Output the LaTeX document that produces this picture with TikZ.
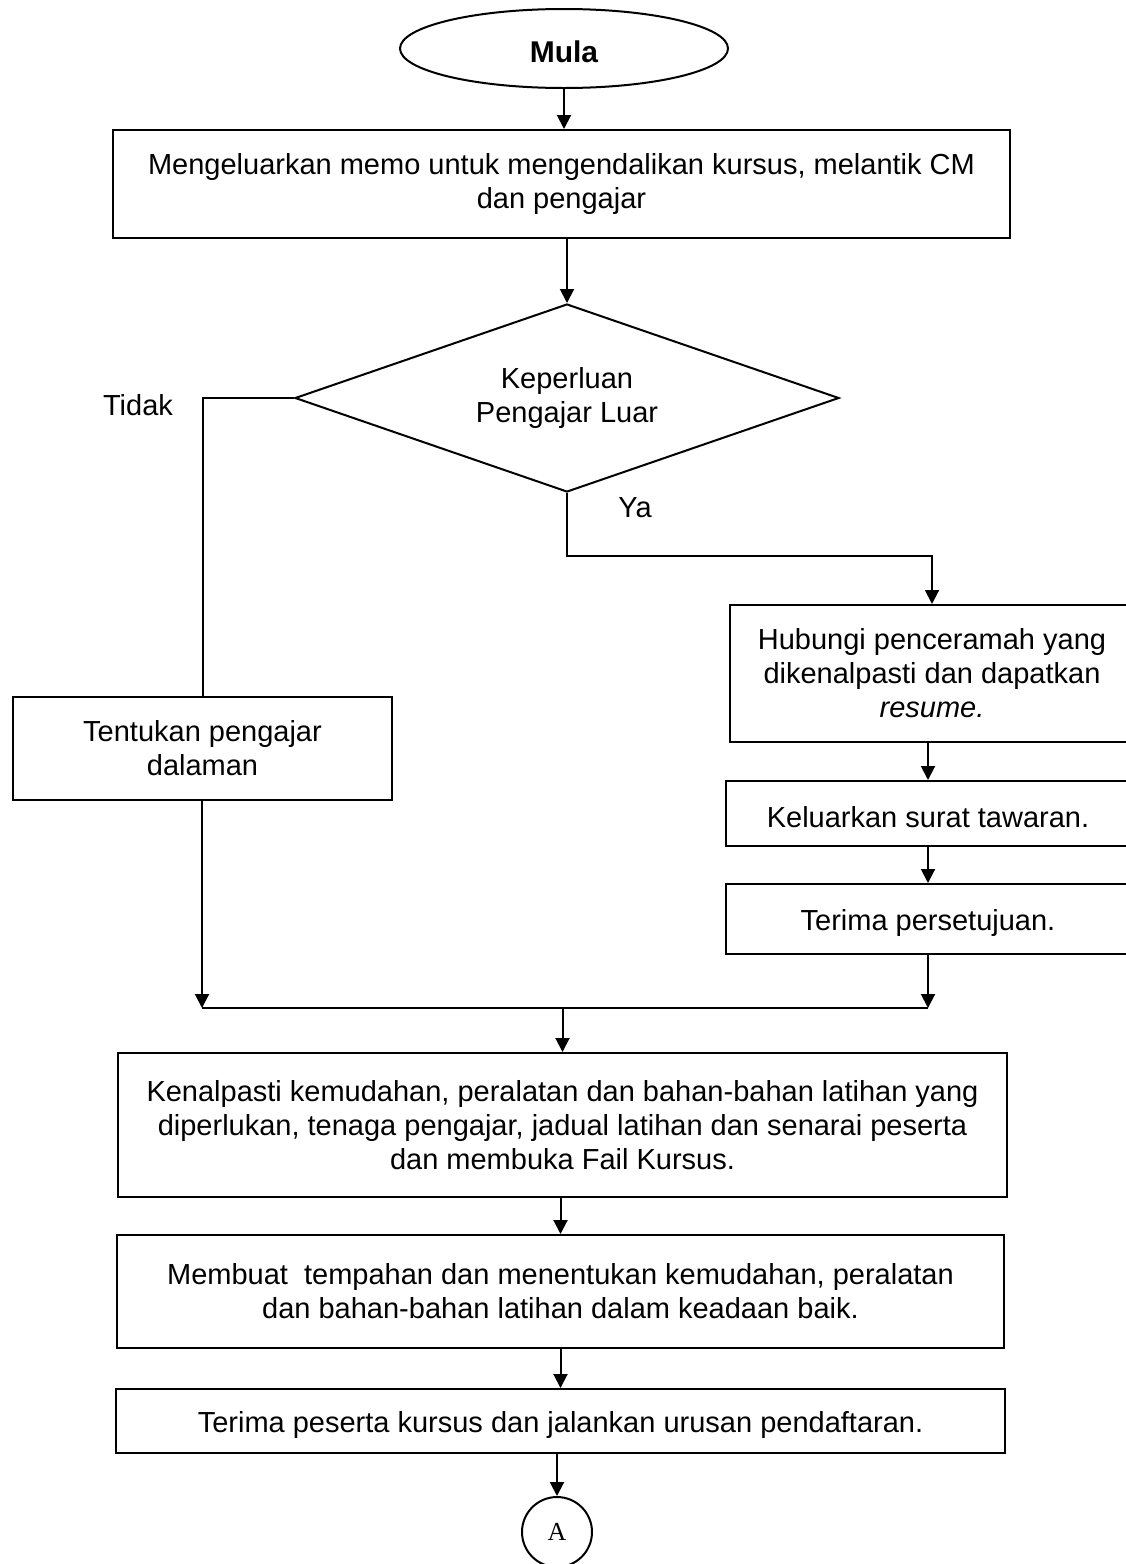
\documentclass[tikz,border=0pt]{standalone}
\usepackage{fontspec}
\setmainfont{Liberation Sans}
\newfontfamily\serifA{Liberation Serif}
\usetikzlibrary{shapes.geometric,arrows.meta}

\begin{document}
\begin{tikzpicture}[
    x = 0.5pt, y = -0.5pt,
    line width = 1pt,
    every node/.style = {font = \fontsize{14.5pt}{17pt}\selectfont, align = center, inner sep = 0pt},
    box/.style = {draw, rectangle, execute at begin node = {\rule{0pt}{14pt}}},
    arr/.style = {-{Triangle[length=7pt,width=7pt]}}]

\useasboundingbox (0,0) rectangle (1125,1564);

\node[draw, ellipse, minimum width=164pt, minimum height=39.5pt,
      font=\fontsize{15pt}{18pt}\selectfont\bfseries,
      execute at begin node={\rule{0pt}{14.5pt}}] (mula) at (564,48.5) {Mula};
\node[box, minimum width=448.5pt, minimum height=54pt] (memo) at (561.5,184)
      {Mengeluarkan memo untuk mengendalikan kursus, melantik CM\\ dan pengajar};
\node[draw, diamond, aspect=2.9, minimum width=272pt, minimum height=94pt] (luar) at (567,398)
      {Keperluan\\ Pengajar Luar};
\node (tidak) at (138,405) {Tidak};
\node (ya) at (635,508) {Ya};
\node[box, minimum width=189.5pt, minimum height=51.5pt] (dalaman) at (202.5,748.5)
      {Tentukan pengajar\\ dalaman};
\node[box, minimum width=202pt, minimum height=68.5pt] (hubungi) at (932,673.5)
      {Hubungi penceramah yang\\ dikenalpasti dan dapatkan\\ \textit{resume.}};
\node[box, minimum width=202pt, minimum height=32.5pt] (surat) at (928,813.5)
      {Keluarkan surat tawaran.};
\node[box, minimum width=202pt, minimum height=35pt] (setuju) at (928,919)
      {Terima persetujuan.};
\node[box, minimum width=444.5pt, minimum height=72pt] (kenal) at (562.5,1125)
      {Kenalpasti kemudahan, peralatan dan bahan-bahan latihan yang\\
       diperlukan, tenaga pengajar, jadual latihan dan senarai peserta\\
       dan membuka Fail Kursus.};
\node[box, minimum width=443.5pt, minimum height=56.5pt] (tempah) at (560.5,1291.5)
      {Membuat\ \ tempahan dan menentukan kemudahan, peralatan\\
       dan bahan-bahan latihan dalam keadaan baik.};
\node[box, minimum width=444.5pt, minimum height=32pt] (daftar) at (560.5,1421)
      {Terima peserta kursus dan jalankan urusan pendaftaran.};
\node[draw, circle, minimum size=35pt, font=\fontsize{13pt}{15pt}\serifA] (sambung) at (557,1532) {A};

\coordinate (yaturn) at (932,556);
\coordinate (mergeL) at (202,1008);
\coordinate (mergeR) at (928,1008);

\draw[arr] (mula.south) -- (mula.south |- memo.north);
\draw[arr] (luar.north |- memo.south) -- (luar.north);
\draw (luar.west) -- (luar.west -| dalaman.north) -- (dalaman.north);
\draw[arr] (luar.south) |- (yaturn) -- (hubungi.north);
\draw[arr] (surat.north |- hubungi.south) -- (surat.north);
\draw[arr] (surat.south) -- (setuju.north);
\draw[arr] (setuju.south) -- (mergeR);
\draw[arr] (dalaman.south -| mergeL) -- (mergeL);
\draw (mergeL) -- (mergeR);
\draw[arr] (kenal.north |- mergeL) -- (kenal.north);
\draw[arr] (tempah.north |- kenal.south) -- (tempah.north);
\draw[arr] (tempah.south) -- (daftar.north);
\draw[arr] (sambung.north |- daftar.south) -- (sambung.north);
\end{tikzpicture}
\end{document}
